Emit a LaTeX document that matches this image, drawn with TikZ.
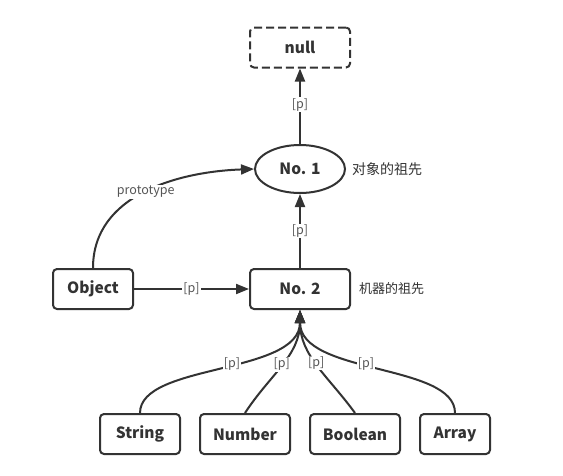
\documentclass[tikz,border=0pt]{standalone}
\usepackage{fontspec}
\setmainfont{Noto Sans CJK SC}
\usetikzlibrary{arrows.meta,shapes.geometric}
\definecolor{ln}{HTML}{333333}
\definecolor{lbl}{HTML}{555555}
\tikzset{
  box/.style={draw=ln,line width=2pt,rounded corners=4pt,minimum height=40pt,text=ln,font=\fontsize{15.5}{18}\selectfont\bfseries,inner sep=0pt},
  oval/.style={ellipse,draw=ln,line width=2pt,minimum width=90pt,minimum height=48pt,text=ln,font=\fontsize{15.5}{18}\selectfont\bfseries,inner sep=0pt},
  conn/.style={draw=ln,line width=2pt,-{Triangle[length=13pt,width=10pt]}},
  elbl/.style={fill=white,text=lbl,font=\fontsize{12.5}{14}\selectfont,inner sep=1pt},
  side/.style={text=ln,font=\fontsize{13}{16}\selectfont,anchor=west,inner sep=0pt}
}
\begin{document}
\begin{tikzpicture}[x=1pt,y=-1pt]
\useasboundingbox[fill=white] (0,0) rectangle (563,475);
\node[box,dashed,dash pattern=on 8pt off 4pt,minimum width=100pt] (null) at (300,47.5) {null};
\node[oval] (n1) at (300,169) {No. 1};
\node[box,minimum width=100pt] (n2) at (300,289) {No. 2};
\node[box,minimum width=80pt] (obj) at (93,289) {Object};
\node[box,minimum width=80pt] (str) at (140,434) {String};
\node[box,minimum width=90pt] (num) at (245,434) {Number};
\node[box,minimum width=90pt] (bool) at (355,434) {Boolean};
\node[box,minimum width=70pt] (arr) at (455,434) {Array};
\node[side,font=\fontsize{14}{16}\selectfont] (t1) at (352,169) {对象的祖先};
\node[side] (t2) at (359,289) {机器的祖先};
\draw[conn] (n1) -- node[elbl,pos=0.52] {[p]} (null);
\draw[conn] (n2) -- node[elbl,pos=0.5] {[p]} (n1);
\draw[conn] (obj) -- node[elbl,pos=0.5] {[p]} (n2);
\draw[conn] (obj.north) to[out=90,in=182] node[elbl,pos=0.5] {prototype} (n1.west);
\draw[conn] (str.north) .. controls +(0,-50) and +(0,65) .. node[elbl,pos=0.55] {[p]} (n2.south);
\draw[conn] (num.north) to[out=57,in=-90] node[elbl,pos=0.5] {[p]} (n2.south);
\draw[conn] (bool.north) to[out=126,in=-90] node[elbl,pos=0.52] {[p]} (n2.south);
\draw[conn] (arr.north) .. controls +(0,-50) and +(0,65) .. node[elbl,pos=0.55] {[p]} (n2.south);
\end{tikzpicture}
\end{document}
